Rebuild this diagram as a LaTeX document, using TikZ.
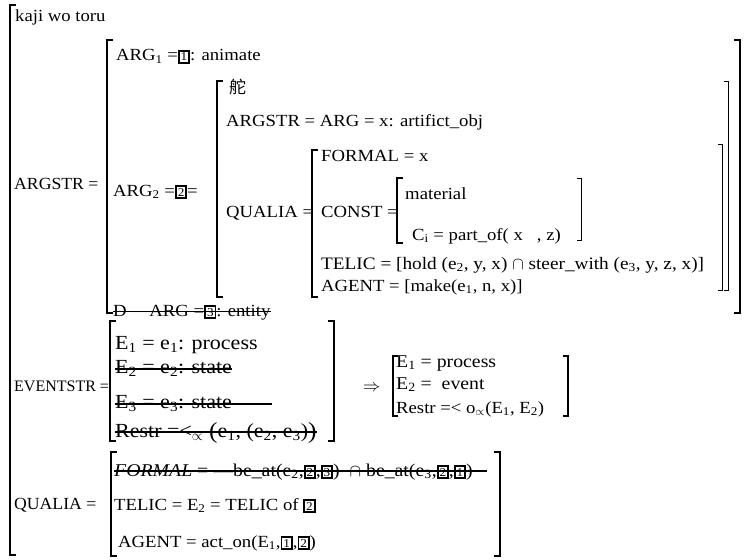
\documentclass[tikz,border=0pt]{standalone}
\usepackage{graphicx}
\usepackage{fontspec}
\setmainfont{Liberation Serif}[FakeStretch=1.1]
\newfontfamily\capsf{Liberation Serif}[FakeStretch=1.04]
\newfontfamily\capsn{Liberation Serif}
\newfontfamily\cjk{Noto Sans CJK SC}
% boxed tag number used for structure sharing
\newcommand\bx[1]{{\setlength\fboxsep{1pt}\setlength\fboxrule{1.8pt}\fbox{\fontsize{12}{12}\selectfont #1}}}
\newcommand\low[1]{\textsubscript{#1}}
\newcommand\fs[1]{\fontsize{#1}{#1}\selectfont}
\tikzset{
  txt/.style={anchor=base west, inner sep=0pt, font=\fs{17}},
  lab/.style={txt, font=\capsf\fs{17}},
  big/.style={txt, font=\fs{20}},
  brk/.style={line width=1.5pt, line cap=rect},
  brkbig/.style={line width=2pt, line cap=rect},
  brkthin/.style={line width=0.9pt, line cap=rect},
  strk/.style={line width=1.1pt},
}
\begin{document}
\begin{tikzpicture}[x=1pt, y=-1pt]
\useasboundingbox (0,0) rectangle (754,559);

% ---- lexical entry ----
\node[txt] (kaji)     at (15,22)  {kaji wo toru};

% ---- argument structure ----
\node[lab] (argstr)   at (14,189) {ARGSTR =};
\node[txt] (arg1)     at (116,61) {ARG\low{1} =\bx{1}: animate};
\node[txt] (arg2)     at (113,196) {ARG\low{2} =\bx{2}=};
\node[txt] (darg)     at (113,316) {D $-$ ARG =\bx{3}: entity};

% embedded entry for the rudder
\node[txt] (duo)      at (229,94) {\cjk\fs{17}舵};
\node[txt] (argsin)   at (226,127) {ARGSTR = ARG = x: artifict\_obj};
\node[txt] (qualin)   at (226,217) {QUALIA =};
\node[txt] (formal)   at (321,161) {FORMAL = x};
\node[txt] (const)    at (321,217) {CONST =};
\node[txt] (material) at (405,199) {material};
\node[txt] (ci)       at (412,240) {C\low{i} = part\_of(\ x\ \ \ , z)};
\node[txt, font=\fs{17.5}] (telic) at (321,269) {TELIC = [hold (e\low{2}, y, x) $\cap$ steer\_with (e\low{3}, y, z, x)]};
\node[txt] (agent)    at (321,291) {AGENT = [make(e\low{1}, n, x)]};

% ---- event structure ----
\node[lab, font=\capsn\fs{16}] (evstr) at (14,391) {EVENTSTR =};
\node[big] (e1)       at (115,349) {E\low{1} = e\low{1}: process};
\node[big] (e2)       at (115,373) {E\low{2} = e\low{2}: state};
\node[big] (e3)       at (115,408) {E\low{3} = e\low{3}: state};
\node[big] (restr)    at (115,437) {Restr =<\low{$\propto$}\ \raisebox{-1pt}{\fs{23}(}e\low{1},\ (e\low{2},\ e\low{3})\raisebox{-1pt}{\fs{23})}};
\node[txt] (arrow)    at (363,391) {$\Rightarrow$};
\node[txt, font=\fs{18}] (re1)    at (396,367) {E\low{1} = process};
\node[txt, font=\fs{18}] (re2)    at (396,389) {E\low{2} = \ event};
\node[txt, font=\fs{17}] (rrestr) at (396,413) {Restr =< o\low{$\propto$}(E\low{1}, E\low{2})};

% ---- qualia structure ----
\node[lab] (qualia)   at (14,509)  {QUALIA =};
\node[txt, font=\fs{18}] (qformal) at (114,476) {\textit{FORMAL} = —be\_at(e\low{2},\bx{2},\bx{3}) \ $\cap$ be\_at(e\low{3},\bx{2},\bx{1})};
\node[txt] (qtelic)   at (114,510) {TELIC = E\low{2} = TELIC of \bx{2}};
\node[txt] (qagent)   at (118,547) {AGENT = act\_on(E\low{1},\bx{1},\bx{2})};

% ---- struck-out lines ----
\draw[strk] ([yshift=4.5pt]darg.base west) -- ([yshift=4.5pt]darg.base east);
\draw[strk] ([yshift=4pt]e2.base west) -- ([yshift=4pt]e2.base east);
\draw[strk] ([yshift=4pt]e3.base west) -- ([yshift=4pt,xshift=40pt]e3.base east);
\draw[strk] ([yshift=5pt]restr.base west) -- ([yshift=5pt]restr.base east);
\draw[strk] ([yshift=5pt]qformal.base west) -- ([yshift=5pt,xshift=14pt]qformal.base east);

% ---- brackets ----
% outermost
\draw[brkbig] (15,5) -- (10,5) -- (10,555) -- (15,555);
% ARGSTR value
\draw[brkbig] (112,40) -- (107,40) -- (107,313) -- (112,313);
\draw[brkbig] (735,40) -- (740,40) -- (740,313) -- (735,313);
% ARG2 value
\draw[brk] (222,81) -- (217,81) -- (217,297) -- (222,297);
\draw[brkthin] (724,81) -- (728,81) -- (728,290) -- (724,290);
% embedded QUALIA
\draw[brk] (317,150) -- (312,150) -- (312,297) -- (317,297);
\draw[brkthin] (718,144) -- (722,144) -- (722,290) -- (718,290);
% CONST
\draw[brk] (402,178) -- (397,178) -- (397,243) -- (402,243);
\draw[brkthin] (577,178) -- (581,178) -- (581,240) -- (577,240);
% EVENTSTR
\draw[brk] (115,321) -- (110,321) -- (110,441) -- (115,441);
\draw[brk] (329,321) -- (334,321) -- (334,441) -- (329,441);
% restricted event structure
\draw[brk] (397,356) -- (393,356) -- (393,416) -- (397,416);
\draw[brk] (564,356) -- (568,356) -- (568,416) -- (564,416);
% QUALIA
\draw[brk] (116,452) -- (111,452) -- (111,556) -- (116,556);
\draw[brk] (495,452) -- (500,452) -- (500,556) -- (495,556);
\end{tikzpicture}
\end{document}
